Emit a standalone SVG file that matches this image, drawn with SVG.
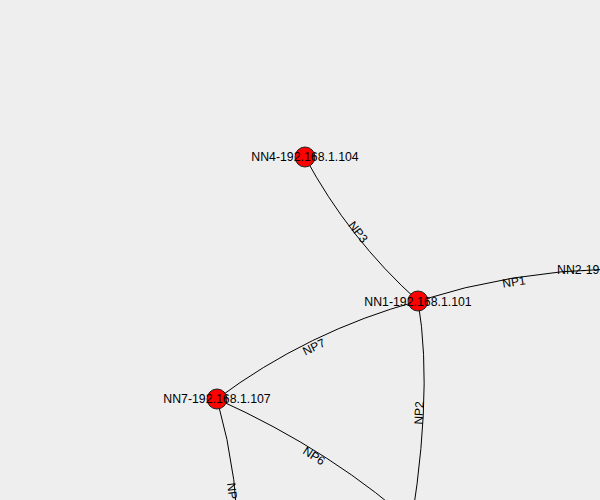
<svg xmlns="http://www.w3.org/2000/svg" width="600" height="500" viewBox="0 0 600 500">
<style>
.bg{fill:#eeeeee}
.edge{fill:none;stroke:#000;stroke-width:1}
.node circle{fill:#ff0000;stroke:#222;stroke-width:1}
text{font-family:"Liberation Sans",Arial,sans-serif;font-size:12px;fill:#000}
.nl{text-anchor:middle;font-size:12.3px}
.el{text-anchor:middle}
</style>
<rect class="bg" x="0" y="0" width="600" height="500"/>
<g id="connectors">
<path class="edge" d="M418,301 Q512,271 611,269"/>
<path class="edge" d="M418,301 Q435,400 405,560"/>
<path class="edge" d="M305,157 Q349,239 418,301"/>
<path class="edge" d="M217,399 Q335,452 420,530"/>
<path class="edge" d="M217,399 Q308,331 418,301"/>
<path class="edge" d="M217,399 Q240,480 238,560"/>
<text class="el" transform="translate(514,282) rotate(-9)" y="4">NP1</text>
<text class="el" transform="translate(419,413) rotate(-87)" y="4">NP2</text>
<text class="el" transform="translate(358,232) rotate(52)" y="4">NP3</text>
<text class="el" transform="translate(314,456) rotate(33)" y="4">NP6</text>
<text class="el" transform="translate(314,347) rotate(-26)" y="4">NP7</text>
<text class="el" transform="translate(232,491) rotate(83)" y="4">NP</text>
</g>
<g id="NN1" class="node"><circle cx="418" cy="301" r="10"/><text class="nl" x="418" y="305.5">NN1-192.168.1.101</text></g>
<g id="NN2" class="node"><circle cx="611" cy="269" r="10"/><text x="557" y="273.5" style="font-size:12.3px">NN2-19</text></g>
<g id="NN4" class="node"><circle cx="305" cy="157" r="10"/><text class="nl" x="305" y="161">NN4-192.168.1.104</text></g>
<g id="NN7" class="node"><circle cx="217" cy="399" r="10"/><text class="nl" x="217" y="403">NN7-192.168.1.107</text></g>
</svg>
